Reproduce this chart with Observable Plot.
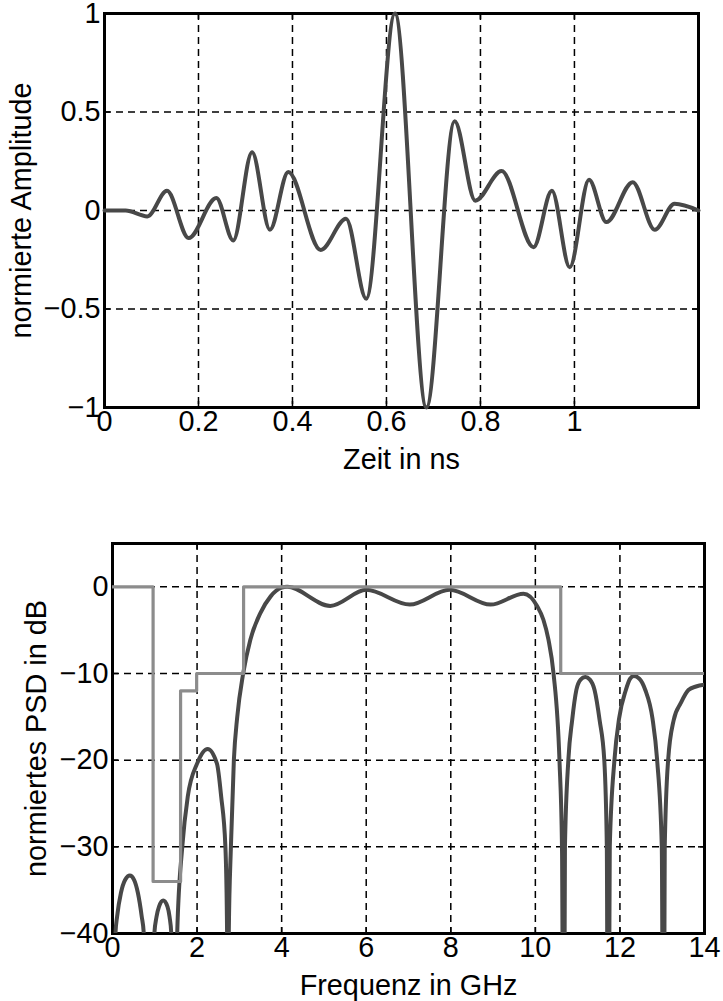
<!DOCTYPE html>
<html><head><meta charset="utf-8">
<script src="https://cdn.jsdelivr.net/npm/d3@7"></script>
<script src="https://cdn.jsdelivr.net/npm/@observablehq/plot@0.6"></script>
<style>body{margin:0;background:#fff} svg{display:block;overflow:visible}</style>
</head><body><div id="c"></div>
<script>
// ---- top chart: pulse in time domain ----
const timeNs = [0, 0.045, 0.091, 0.133, 0.179, 0.238, 0.274, 0.314, 0.352, 0.391, 0.460, 0.514, 0.557, 0.618, 0.685, 0.745, 0.789, 0.845, 0.913, 0.952, 0.990, 1.031, 1.068, 1.124, 1.171, 1.213, 1.264];
const amplitude = [0, 0, -0.03, 0.10, -0.14, 0.063, -0.152, 0.296, -0.098, 0.195, -0.20, -0.042, -0.448, 1.0, -1.0, 0.453, 0.05, 0.20, -0.186, 0.10, -0.288, 0.156, -0.059, 0.144, -0.098, 0.034, 0];
const timeTicks = [0, 0.2, 0.4, 0.6, 0.8, 1];
const timeTickLabels = ["0", "0.2", "0.4", "0.6", "0.8", "1"];
const ampTicks = [-1, -0.5, 0, 0.5, 1];
const ampTickLabels = ["−1", "−0.5", "0", "0.5", "1"];

// ---- bottom chart: PSD and mask ----
const freqGHz = [0.00, 0.07, 0.11, 0.20, 0.30, 0.41, 0.51, 0.60, 0.69, 0.74, 0.86,
  0.99, 1.04, 1.10, 1.20, 1.30, 1.35, 1.39, 1.46,
  1.53, 1.65, 1.78, 2.00, 2.25, 2.47, 2.57, 2.67, 2.71, 2.73,
  2.75, 2.80, 2.87, 2.95, 3.09, 3.26, 3.50, 3.74, 4.00, 4.13, 5.15, 6.00, 7.03, 7.97, 8.94, 9.72, 10.04, 10.19, 10.31, 10.43, 10.57, 10.63, 10.67,
  10.70, 10.78, 10.87, 10.97, 11.07, 11.18, 11.29, 11.40, 11.52, 11.63, 11.69, 11.72,
  11.76, 11.87, 11.98, 12.14, 12.24, 12.33, 12.46, 12.60, 12.77, 12.88, 12.99, 13.03,
  13.06, 13.14, 13.27, 13.44, 13.62, 13.80, 14.00];
const psdDb = [-70, -40, -38, -35.3, -33.8, -33.3, -33.8, -35.3, -38, -40, -70,
  -40, -38.1, -36.9, -36.2, -36.9, -38.1, -40, -70,
  -40, -30, -24.2, -20.4, -18.7, -20.4, -24.2, -30, -40, -70,
  -40, -30, -20, -15, -10, -6.1, -3, -1.1, -0.1, 0, -2.2, -0.35, -2.05, -0.35, -2.05, -0.8, -2.2, -3.8, -6.1, -10, -20, -30, -70,
  -30, -20, -15.4, -11.9, -10.7, -10.4, -10.7, -11.9, -15.4, -20, -30, -70,
  -30, -20, -15.2, -11.9, -10.6, -10.3, -10.6, -11.9, -15.2, -20, -30, -70,
  -30, -20, -15.4, -13.4, -11.9, -11.5, -11.3];
const maskFreqGHz = [0, 0.96, 1.61, 1.99, 3.1, 10.6, 14];
const maskDb = [0, -34, -12, -10, 0, -10, -10];
const freqTicks = [0, 2, 4, 6, 8, 10, 12, 14];
const freqTickLabels = ["0", "2", "4", "6", "8", "10", "12", "14"];
const psdTicks = [-40, -30, -20, -10, 0];
const psdTickLabels = ["−40", "−30", "−20", "−10", "0"];

const FONT = "'Liberation Sans', Arial, Helvetica, sans-serif";
const FS = 28.8;
const curveColor = "#484848";
const maskColor = "#8c8c8c";
const W = 723;

function chart({height, mt, mb, ml, mr, xDomain, yDomain, xTicks, xLabels, yTicks, yLabels, xLabel, yLabel, yLabelOffset, lines}) {
  const fw = W - ml - mr, fh = height - mt - mb;
  const tickLen = 6;
  const fmt = (ticks, labels) => d => labels[ticks.indexOf(d)];
  const gridStyle = {stroke: "#000", strokeOpacity: 1, strokeWidth: 1.5, strokeDasharray: "7,5"};
  return Plot.plot({
    width: W, height, marginTop: mt, marginBottom: mb, marginLeft: ml, marginRight: mr,
    style: {fontFamily: FONT, fontSize: FS + "px", color: "#000", background: "#fff", overflow: "visible"},
    x: {domain: xDomain},
    y: {domain: yDomain},
    marks: [
      Plot.gridX(xTicks, gridStyle),
      Plot.gridY(yTicks, gridStyle),
      Plot.ruleX(xTicks, {x: d => d, insetTop: fh - tickLen, stroke: "#000", strokeWidth: 1.5}),
      Plot.ruleX(xTicks, {x: d => d, insetBottom: fh - tickLen, stroke: "#000", strokeWidth: 1.5}),
      Plot.ruleY(yTicks, {y: d => d, insetRight: fw - tickLen, stroke: "#000", strokeWidth: 1.5}),
      Plot.ruleY(yTicks, {y: d => d, insetLeft: fw - tickLen, stroke: "#000", strokeWidth: 1.5}),
      Plot.frame({stroke: "#000", strokeWidth: 3}),
      ...lines,
      Plot.axisX(xTicks, {tickSize: 0, tickPadding: 3, fontSize: FS, tickFormat: fmt(xTicks, xLabels),
        label: xLabel, labelAnchor: "center", labelOffset: 61, labelArrow: "none"}),
      Plot.axisY(yTicks, {tickSize: 0, tickPadding: 4, fontSize: FS, tickFormat: fmt(yTicks, yLabels),
        label: yLabel, labelAnchor: "center", labelOffset: yLabelOffset, labelArrow: "none"})
    ]
  });
}

const pulse = timeNs.map((t, i) => ({t, a: amplitude[i]}));
const psd = freqGHz.map((f, i) => ({f, p: psdDb[i]}));
const mask = maskFreqGHz.map((f, i) => ({f, p: maskDb[i]}));

const topChart = chart({
  height: 490, mt: 13, mb: 83, ml: 104, mr: 25,
  xDomain: [0, 1.264], yDomain: [-1, 1],
  xTicks: timeTicks, xLabels: timeTickLabels, yTicks: ampTicks, yLabels: ampTickLabels,
  xLabel: "Zeit in ns", yLabel: "normierte Amplitude", yLabelOffset: 94,
  lines: [Plot.line(pulse, {x: "t", y: "a", stroke: curveColor, strokeWidth: 4, curve: "monotone-x"})]
});

const bottomChart = chart({
  height: 511, mt: 53, mb: 68, ml: 112, mr: 19,
  xDomain: [0, 14], yDomain: [-40, 5],
  xTicks: freqTicks, xLabels: freqTickLabels, yTicks: psdTicks, yLabels: psdTickLabels,
  xLabel: "Frequenz in GHz", yLabel: "normiertes PSD in dB", yLabelOffset: 87,
  lines: [
    Plot.line(psd, {x: "f", y: "p", stroke: curveColor, strokeWidth: 4, curve: "monotone-x", clip: true}),
    Plot.line(mask, {x: "f", y: "p", stroke: maskColor, strokeWidth: 3.2, curve: "step-after", clip: true})
  ]
});

document.getElementById("c").append(topChart, bottomChart);
</script>
</body></html>
